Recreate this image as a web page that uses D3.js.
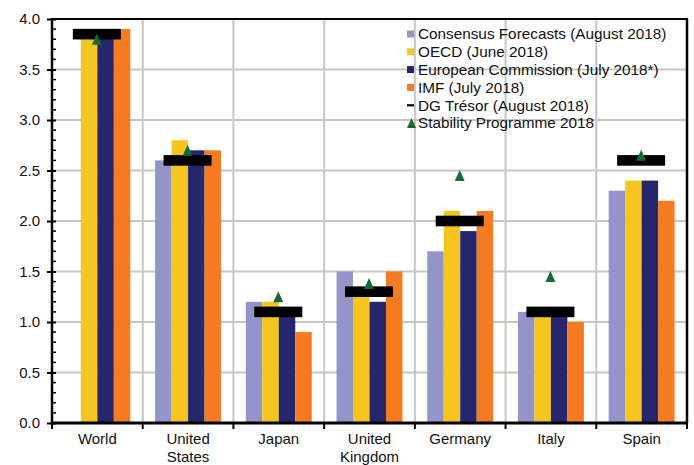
<!DOCTYPE html>
<html lang="en">
<head>
<meta charset="UTF-8">
<title>Growth forecasts</title>
<style>
  body { margin: 0; background: #fff; }
  svg { display: block; }
  text { font-family: "Liberation Sans", Arial, sans-serif; fill: #111; }
</style>
<script src="https://d3js.org/d3.v7.min.js"></script>
</head>
<body>
<svg width="694" height="465"></svg>
<script>
// categories and series
const countries = ["World", "United States", "Japan", "United Kingdom", "Germany", "Italy", "Spain"];
const countryLines = [["World"], ["United", "States"], ["Japan"], ["United", "Kingdom"], ["Germany"], ["Italy"], ["Spain"]];

const consensus = [null, 2.6, 1.2, 1.5, 1.7, 1.1, 2.3];
const oecd      = [3.9, 2.8, 1.2, 1.3, 2.1, 1.1, 2.4];
const ec        = [3.9, 2.7, 1.1, 1.2, 1.9, 1.1, 2.4];
const imf       = [3.9, 2.7, 0.9, 1.5, 2.1, 1.0, 2.2];
const dgTresor  = [3.85, 2.6, 1.1, 1.3, 2.0, 1.1, 2.6];
const stability = [3.8, 2.7, 1.25, 1.38, 2.45, 1.45, 2.65];

const barSeries = ["Consensus Forecasts (August 2018)", "OECD (June 2018)", "European Commission (July 2018*)", "IMF (July 2018)"];
const barValues = [consensus, oecd, ec, imf];
const barColors = ["#9494c8", "#f5c61f", "#26266c", "#f47b20"];
const yTicks = [0, 0.5, 1, 1.5, 2, 2.5, 3, 3.5, 4];

const svg = d3.select("svg");
const plotL = 52, plotR = 687, plotT = 19, plotB = 423;

const x = d3.scaleBand().domain(countries).range([plotL, plotR]);
const inner = d3.scaleBand().domain(barSeries).range([12.4, x.bandwidth() - 12.4]);
const y = d3.scaleLinear().domain([0, 4]).range([plotB, plotT]);

// gridlines
svg.append("g").selectAll("line")
  .data(yTicks.slice(1))
  .enter().append("line")
  .attr("x1", plotL).attr("x2", plotR)
  .attr("y1", d => y(d)).attr("y2", d => y(d))
  .style("stroke", "#c6c6c6").style("stroke-width", 2);

svg.append("g").selectAll("line")
  .data(countries.slice(1))
  .enter().append("line")
  .attr("x1", d => x(d)).attr("x2", d => x(d))
  .attr("y1", plotT).attr("y2", plotB)
  .style("stroke", "#c6c6c6").style("stroke-width", 2);

// bars
barSeries.forEach((s, i) => {
  svg.append("g").selectAll("rect")
    .data(countries.map((c, j) => ({ c: c, v: barValues[i][j] })).filter(d => d.v !== null))
    .enter().append("rect")
    .attr("x", d => x(d.c) + inner(s))
    .attr("width", inner.bandwidth())
    .attr("y", d => y(d.v))
    .attr("height", d => y(0) - y(d.v))
    .style("fill", barColors[i]);
});

// DG Tresor markers
svg.append("g").selectAll("rect")
  .data(countries.map((c, j) => ({ c: c, v: dgTresor[j] })))
  .enter().append("rect")
  .attr("x", d => x(d.c) + x.bandwidth() / 2 - 24.5)
  .attr("width", 48)
  .attr("y", d => y(d.v) - 5.3)
  .attr("height", 10.6)
  .style("fill", "#000");

// Stability programme triangles (centred on value)
const tri = "M0,-5.5L5,5.5L-5,5.5Z";
svg.append("g").selectAll("path")
  .data(countries.map((c, j) => ({ c: c, v: stability[j] })))
  .enter().append("path")
  .attr("d", tri)
  .attr("transform", d => `translate(${x(d.c) + x.bandwidth() / 2 - 0.5},${y(d.v)})`)
  .style("fill", "#176a35");

// frame
svg.append("line").attr("x1", plotL).attr("x2", plotR + 1).attr("y1", plotT).attr("y2", plotT)
  .style("stroke", "#000").style("stroke-width", 2);
svg.append("line").attr("x1", plotR).attr("x2", plotR).attr("y1", plotT).attr("y2", plotB)
  .style("stroke", "#000").style("stroke-width", 2.5);

// y axis
const yAxis = svg.append("g").attr("transform", `translate(${plotL},0)`)
  .call(d3.axisLeft(y).tickValues(yTicks).tickFormat(d3.format(".1f")).tickSize(5).tickPadding(7));
yAxis.select(".domain").attr("d", `M0,${plotT - 1}V${plotB}`).style("stroke", "#000").style("stroke-width", 2.5);
yAxis.selectAll(".tick line").attr("x1", -5).attr("x2", 4).style("stroke-width", 2);
yAxis.selectAll(".tick text").style("font-size", "15px").style("font-family", "'Liberation Sans', Arial, sans-serif").style("fill", "#111");
svg.append("g").selectAll("line")
  .data(d3.range(0, 41).filter(k => k % 5 !== 0).map(k => k / 10))
  .enter().append("line")
  .attr("x1", plotL).attr("x2", plotL + 4)
  .attr("y1", d => y(d)).attr("y2", d => y(d))
  .style("stroke", "#000").style("stroke-width", 1.5);

// x axis
svg.append("line").attr("x1", plotL - 1).attr("x2", plotR + 1).attr("y1", plotB).attr("y2", plotB)
  .style("stroke", "#000").style("stroke-width", 3);
svg.append("g").selectAll("line")
  .data(countries.concat(["end"]))
  .enter().append("line")
  .attr("x1", (d, i) => i < countries.length ? x(d) : plotR)
  .attr("x2", (d, i) => i < countries.length ? x(d) : plotR)
  .attr("y1", plotB).attr("y2", plotB + 6)
  .style("stroke", "#000").style("stroke-width", 2);

const xl = svg.append("g").selectAll("text")
  .data(countries.map((c, j) => ({ c: c, lines: countryLines[j] })))
  .enter().append("text")
  .attr("x", d => x(d.c) + x.bandwidth() / 2)
  .attr("y", 444)
  .attr("text-anchor", "middle")
  .style("font-size", "15px");
xl.selectAll("tspan")
  .data(d => d.lines.map(t => ({ t: t, x: x(d.c) + x.bandwidth() / 2 })))
  .enter().append("tspan")
  .attr("x", d => d.x)
  .attr("dy", (d, i) => i === 0 ? 0 : 18)
  .text(d => d.t);

// legend
const legendNames = barSeries.concat(["DG Trésor (August 2018)", "Stability Programme 2018"]);
const lg = svg.append("g").attr("transform", "translate(407,34)");
legendNames.forEach((name, i) => {
  const g = lg.append("g").attr("transform", `translate(0,${i * 17.8})`);
  if (i < 4) {
    g.append("rect").attr("x", 0).attr("y", -3.5).attr("width", 7).attr("height", 7).style("fill", barColors[i]);
  } else if (i === 4) {
    g.append("rect").attr("x", 0).attr("y", -1).attr("width", 7).attr("height", 2.2).style("fill", "#000");
  } else {
    g.append("path").attr("d", "M0,-5L4.5,5L-4.5,5Z").attr("transform", "translate(4.5,0)").style("fill", "#176a35");
  }
  g.append("text").attr("x", 11).attr("y", 5.4).style("font-size", "15.3px").text(name);
});
</script>
</body>
</html>
